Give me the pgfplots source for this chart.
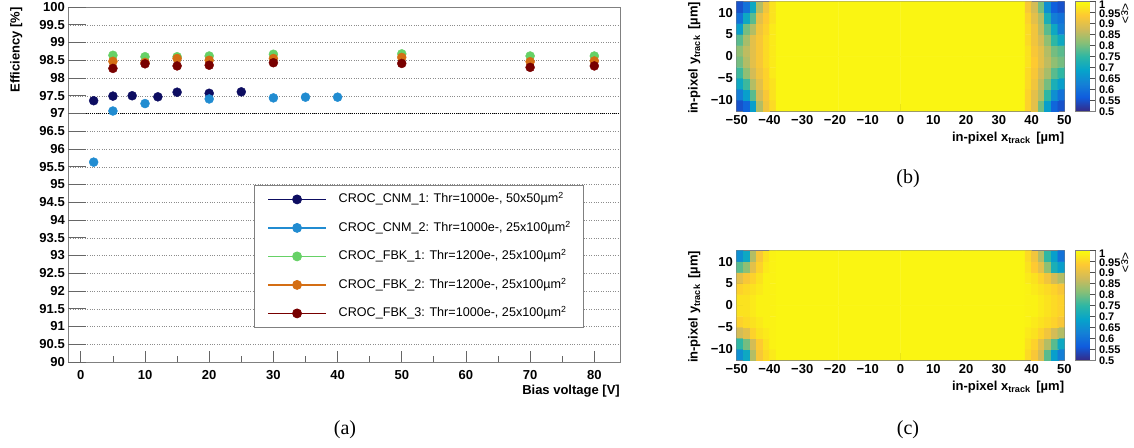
\documentclass[border=0pt]{standalone}
\usepackage{fontspec}
\setmainfont{Liberation Sans}
\newfontfamily\timesfont{Liberation Serif}
\usepackage{pgfplots}
\pgfplotsset{compat=1.18}

\definecolor{cnmone}{rgb}{0.05,0.05,0.38}
\definecolor{cnmtwo}{rgb}{0.13,0.55,0.82}
\definecolor{fbkone}{rgb}{0.40,0.82,0.40}
\definecolor{fbktwo}{rgb}{0.83,0.43,0.08}
\definecolor{fbkthree}{rgb}{0.47,0.0,0.0}
\definecolor{framegray}{gray}{0.5}

\newcommand\tl{\bfseries\fontsize{13}{13}\selectfont}
\newcommand\cl{\bfseries\fontsize{11}{11}\selectfont}

\pgfplotsset{
 colormap={bird}{rgb=(0.2082,0.1664,0.5293) rgb=(0.0592,0.3599,0.8684) rgb=(0.0780,0.5041,0.8385) rgb=(0.0232,0.6419,0.7914) rgb=(0.1802,0.7178,0.6425) rgb=(0.5301,0.7492,0.4662) rgb=(0.8186,0.7328,0.3499) rgb=(0.9956,0.7862,0.1968) rgb=(0.9764,0.9832,0.0539)},
 mapaxis/.style={
  anchor=south west, scale only axis, width=327.6pt, height=109.3pt,
  xmin=-50,xmax=50,ymin=-12.5,ymax=12.5,
  axis line style={framegray, line width=0.8pt},
  tick style={black!70, line width=0.8pt},
  tick align=inside, xtick pos=left, ytick pos=left,
  major tick length=7pt, minor tick length=3.5pt,
  xtick={-50,-40,-30,-20,-10,0,10,20,30,40,50},
  xticklabels={−50,−40,−30,−20,−10,0,10,20,30,40,50},
  ytick={-10,-5,0,5,10}, yticklabels={−10,−5,0,5,10},
  minor x tick num=4, minor y tick num=4,
  tick label style={font=\tl},
  xticklabel style={inner sep=0pt, anchor=north, yshift=-4pt},
  yticklabel style={inner sep=0pt, anchor=east, xshift=-3.7pt},
  xlabel={in-pixel x\textsubscript{track}\, [µm]},
  ylabel={in-pixel y\textsubscript{track}\, [µm]},
  label style={font=\tl},
  xlabel style={at={(1,0)}, anchor=base east, yshift=-30.5pt, inner sep=0pt},
  ylabel style={at={(-0.119,1)}, anchor=base east, inner sep=0pt},
  point meta min=0.5, point meta max=1, colormap name=bird,
  colorbar,
  colorbar style={at={(parent axis.north east)}, anchor=north west, xshift=2.4pt,
   scale only axis, width=20.6pt, height=109.3pt,
   ytick={0.5,0.55,0.6,0.65,0.7,0.75,0.8,0.85,0.9,0.95},
   yticklabels={0.5,0.55,0.6,0.65,0.7,0.75,0.8,0.85,0.9,0.95},
   extra y ticks={1}, extra y tick labels={1},
   extra y tick style={yticklabel style={yshift=-2pt}},
   ytick pos=right, yticklabel pos=right, tick align=inside, major tick length=6pt,
   axis line style={framegray,line width=0.8pt}, tick style={black!70,line width=0.8pt},
   yticklabel style={font=\cl, inner sep=0pt, anchor=west, xshift=3pt, yshift=-0.6pt}},
 },
 cell/.style={matrix plot*, point meta=explicit, mesh/cols=6},
}

\begin{document}
\begin{tikzpicture}
% ---------------- (a) ----------------
\begin{axis}[
 at={(68pt,-362pt)}, anchor=south west, scale only axis, width=552pt, height=355pt,
 xmin=-2, xmax=84, ymin=90, ymax=100,
 xtick={0,10,20,30,40,50,60,70,80}, minor x tick num=1,
 ytick={90,90.5,91,91.5,92,92.5,93,93.5,94,94.5,95,95.5,96,96.5,97,97.5,98,98.5,99,99.5,100},
 yticklabels={90,90.5,91,91.5,92,92.5,93,93.5,94,94.5,95,95.5,96,96.5,97,97.5,98,98.5,99,99.5,100},
 xticklabels={0,10,20,30,40,50,60,70,80},
 xtick pos=left, ytick pos=left, tick align=inside,
 major tick length=11pt, minor tick length=6pt,
 axis line style={framegray, line width=0.8pt},
 tick style={black!60, line width=0.8pt},
 ymajorgrids, grid style={black!45, dotted, line width=0.5pt},
 tick label style={font=\tl},
 xticklabel style={inner sep=0pt, anchor=north, yshift=-8pt},
 yticklabel style={inner sep=0pt, anchor=east, xshift=-3pt},
 xlabel={Bias voltage [V]}, ylabel={Efficiency [\%]},
 label style={font=\tl},
 xlabel style={at={(1,0)}, anchor=base east, yshift=-32.5pt, inner sep=0pt},
 ylabel style={at={(-0.0875,1)}, anchor=base east, inner sep=0pt},
 legend style={at={(0.337,0.4986)}, anchor=north west, draw=framegray, line width=0.8pt,
   fill=white, inner xsep=13pt, inner ysep=8pt, row sep=16.5pt, column sep=12pt,
   font=\fontsize{12.6}{12.6}\selectfont,
   nodes={inner sep=0pt, text height=9.5pt, text depth=2.5pt}},
 legend cell align=left,
 legend image code/.code={\draw[#1, line width=1.3pt] (0pt,0pt) -- (58pt,0pt);
   \draw[#1] plot coordinates {(29pt,0pt)};},
]
\addplot[black, densely dotted, line width=1pt, forget plot] coordinates {(-2,97) (84,97)};
\addplot[only marks, mark=*, mark size=4.5pt, color=cnmone] coordinates
 {(2,97.36) (5,97.49) (8,97.50) (12,97.47) (15,97.60) (20,97.57) (25,97.61)};
\addlegendentry{CROC\_CNM\_1: Thr=1000e-, 50x50µm\textsuperscript{2}}
\addplot[only marks, mark=*, mark size=4.5pt, color=cnmtwo] coordinates
 {(2,95.63) (5,97.07) (10,97.28) (20,97.41) (30,97.44) (35,97.46) (40,97.46)};
\addlegendentry{CROC\_CNM\_2: Thr=1000e-, 25x100µm\textsuperscript{2}}
\addplot[only marks, mark=*, mark size=4.5pt, color=fbkone] coordinates
 {(5,98.64) (10,98.60) (15,98.60) (20,98.62) (30,98.67) (50,98.68) (70,98.62) (80,98.62)};
\addlegendentry{CROC\_FBK\_1: Thr=1200e-, 25x100µm\textsuperscript{2}}
\addplot[only marks, mark=*, mark size=4.5pt, color=fbktwo] coordinates
 {(5,98.47) (10,98.44) (15,98.55) (20,98.50) (30,98.55) (50,98.58) (70,98.46) (80,98.48)};
\addlegendentry{CROC\_FBK\_2: Thr=1200e-, 25x100µm\textsuperscript{2}}
\addplot[only marks, mark=*, mark size=4.5pt, color=fbkthree] coordinates
 {(5,98.27) (10,98.40) (15,98.34) (20,98.36) (30,98.43) (50,98.41) (70,98.30) (80,98.34)};
\addlegendentry{CROC\_FBK\_3: Thr=1000e-, 25x100µm\textsuperscript{2}}
\end{axis}
% long y ticks of (a)
\begin{axis}[
 at={(68pt,-362pt)}, anchor=south west, scale only axis, width=552pt, height=355pt,
 xmin=-2, xmax=84, ymin=90, ymax=100,
 axis x line=none, axis y line*=left, y axis line style={draw=none},
 ytick={90,90.5,91,91.5,92,92.5,93,93.5,94,94.5,95,95.5,96,96.5,97,97.5,98,98.5,99,99.5,100},
 yticklabels={}, major tick length=17.7pt, tick align=inside,
 tick style={black!60, line width=0.8pt}]
\end{axis}

% ---------------- (b) ----------------
\begin{axis}[mapaxis, at={(736.7pt,-111pt)}]
\addplot[cell] table[row sep=\\, meta=c] {
x y c\\
-49 -11.25 0.55\\ -47 -11.25 0.58\\ -45 -11.25 0.68\\ -43 -11.25 0.85\\ -41 -11.25 0.92\\ -39 -11.25 0.96\\
-49 -8.75 0.62\\ -47 -8.75 0.68\\ -45 -8.75 0.78\\ -43 -8.75 0.88\\ -41 -8.75 0.93\\ -39 -8.75 0.97\\
-49 -6.25 0.70\\ -47 -6.25 0.76\\ -45 -6.25 0.85\\ -43 -6.25 0.90\\ -41 -6.25 0.95\\ -39 -6.25 0.97\\
-49 -3.75 0.76\\ -47 -3.75 0.82\\ -45 -3.75 0.88\\ -43 -3.75 0.92\\ -41 -3.75 0.95\\ -39 -3.75 0.98\\
-49 -1.25 0.80\\ -47 -1.25 0.85\\ -45 -1.25 0.90\\ -43 -1.25 0.93\\ -41 -1.25 0.96\\ -39 -1.25 0.98\\
-49 1.25 0.82\\ -47 1.25 0.86\\ -45 1.25 0.90\\ -43 1.25 0.93\\ -41 1.25 0.96\\ -39 1.25 0.98\\
-49 3.75 0.78\\ -47 3.75 0.84\\ -45 3.75 0.90\\ -43 3.75 0.93\\ -41 3.75 0.96\\ -39 3.75 0.98\\
-49 6.25 0.68\\ -47 6.25 0.80\\ -45 6.25 0.85\\ -43 6.25 0.92\\ -41 6.25 0.95\\ -39 6.25 0.98\\
-49 8.75 0.60\\ -47 8.75 0.70\\ -45 8.75 0.78\\ -43 8.75 0.90\\ -41 8.75 0.94\\ -39 8.75 0.97\\
-49 11.25 0.55\\ -47 11.25 0.60\\ -45 11.25 0.70\\ -43 11.25 0.85\\ -41 11.25 0.92\\ -39 11.25 0.97\\
};
\addplot[matrix plot*, point meta=explicit, mesh/cols=4] table[row sep=\\, meta=c] {
x y c\\
-28.5 -6.25 0.993\\ -9.5 -6.25 0.993\\ 9.5 -6.25 0.993\\ 28.5 -6.25 0.993\\
-28.5 6.25 0.993\\ -9.5 6.25 0.993\\ 9.5 6.25 0.993\\ 28.5 6.25 0.993\\
};
\addplot[cell] table[row sep=\\, meta=c] {
x y c\\
39 -11.25 0.95\\ 41 -11.25 0.90\\ 43 -11.25 0.80\\ 45 -11.25 0.68\\ 47 -11.25 0.58\\ 49 -11.25 0.55\\
39 -8.75 0.95\\ 41 -8.75 0.90\\ 43 -8.75 0.85\\ 45 -8.75 0.75\\ 47 -8.75 0.65\\ 49 -8.75 0.60\\
39 -6.25 0.96\\ 41 -6.25 0.92\\ 43 -6.25 0.86\\ 45 -6.25 0.80\\ 47 -6.25 0.72\\ 49 -6.25 0.68\\
39 -3.75 0.96\\ 41 -3.75 0.93\\ 43 -3.75 0.88\\ 45 -3.75 0.84\\ 47 -3.75 0.78\\ 49 -3.75 0.75\\
39 -1.25 0.97\\ 41 -1.25 0.94\\ 43 -1.25 0.90\\ 45 -1.25 0.86\\ 47 -1.25 0.82\\ 49 -1.25 0.80\\
39 1.25 0.97\\ 41 1.25 0.93\\ 43 1.25 0.90\\ 45 1.25 0.85\\ 47 1.25 0.80\\ 49 1.25 0.78\\
39 3.75 0.96\\ 41 3.75 0.92\\ 43 3.75 0.88\\ 45 3.75 0.82\\ 47 3.75 0.75\\ 49 3.75 0.70\\
39 6.25 0.96\\ 41 6.25 0.92\\ 43 6.25 0.86\\ 45 6.25 0.78\\ 47 6.25 0.70\\ 49 6.25 0.62\\
39 8.75 0.95\\ 41 8.75 0.90\\ 43 8.75 0.85\\ 45 8.75 0.72\\ 47 8.75 0.62\\ 49 8.75 0.60\\
39 11.25 0.93\\ 41 11.25 0.88\\ 43 11.25 0.80\\ 45 11.25 0.65\\ 47 11.25 0.57\\ 49 11.25 0.55\\
};
\end{axis}
\node[rotate=-90, anchor=west, inner sep=0pt, font=\fontsize{12.5}{12.5}\selectfont] at (1125pt,-3pt) {<ε>};

% ---------------- (c) ----------------
\begin{axis}[mapaxis, at={(736.7pt,-360pt)}]
\addplot[cell] table[row sep=\\, meta=c] {
x y c\\
-49 -11.25 0.65\\ -47 -11.25 0.70\\ -45 -11.25 0.85\\ -43 -11.25 0.93\\ -41 -11.25 0.96\\ -39 -11.25 0.98\\
-49 -8.75 0.75\\ -47 -8.75 0.80\\ -45 -8.75 0.88\\ -43 -8.75 0.94\\ -41 -8.75 0.97\\ -39 -8.75 0.99\\
-49 -6.25 0.88\\ -47 -6.25 0.90\\ -45 -6.25 0.95\\ -43 -6.25 0.97\\ -41 -6.25 0.98\\ -39 -6.25 0.99\\
-49 -3.75 0.95\\ -47 -3.75 0.96\\ -45 -3.75 0.97\\ -43 -3.75 0.98\\ -41 -3.75 0.99\\ -39 -3.75 0.99\\
-49 -1.25 0.97\\ -47 -1.25 0.97\\ -45 -1.25 0.98\\ -43 -1.25 0.99\\ -41 -1.25 0.99\\ -39 -1.25 0.99\\
-49 1.25 0.97\\ -47 1.25 0.97\\ -45 1.25 0.98\\ -43 1.25 0.99\\ -41 1.25 0.99\\ -39 1.25 0.99\\
-49 3.75 0.95\\ -47 3.75 0.96\\ -45 3.75 0.97\\ -43 3.75 0.98\\ -41 3.75 0.99\\ -39 3.75 0.99\\
-49 6.25 0.90\\ -47 6.25 0.93\\ -45 6.25 0.95\\ -43 6.25 0.97\\ -41 6.25 0.99\\ -39 6.25 0.99\\
-49 8.75 0.78\\ -47 8.75 0.82\\ -45 8.75 0.90\\ -43 8.75 0.95\\ -41 8.75 0.98\\ -39 8.75 0.99\\
-49 11.25 0.65\\ -47 11.25 0.70\\ -45 11.25 0.85\\ -43 11.25 0.93\\ -41 11.25 0.97\\ -39 11.25 0.99\\
};
\addplot[matrix plot*, point meta=explicit, mesh/cols=4] table[row sep=\\, meta=c] {
x y c\\
-28.5 -6.25 0.993\\ -9.5 -6.25 0.993\\ 9.5 -6.25 0.993\\ 28.5 -6.25 0.993\\
-28.5 6.25 0.993\\ -9.5 6.25 0.993\\ 9.5 6.25 0.993\\ 28.5 6.25 0.993\\
};
\addplot[cell] table[row sep=\\, meta=c] {
x y c\\
39 -11.25 0.96\\ 41 -11.25 0.93\\ 43 -11.25 0.88\\ 45 -11.25 0.78\\ 47 -11.25 0.68\\ 49 -11.25 0.62\\
39 -8.75 0.97\\ 41 -8.75 0.95\\ 43 -8.75 0.90\\ 45 -8.75 0.85\\ 47 -8.75 0.78\\ 49 -8.75 0.70\\
39 -6.25 0.98\\ 41 -6.25 0.97\\ 43 -6.25 0.95\\ 45 -6.25 0.92\\ 47 -6.25 0.88\\ 49 -6.25 0.85\\
39 -3.75 0.99\\ 41 -3.75 0.98\\ 43 -3.75 0.97\\ 45 -3.75 0.96\\ 47 -3.75 0.95\\ 49 -3.75 0.93\\
39 -1.25 0.99\\ 41 -1.25 0.99\\ 43 -1.25 0.98\\ 45 -1.25 0.97\\ 47 -1.25 0.96\\ 49 -1.25 0.95\\
39 1.25 0.99\\ 41 1.25 0.99\\ 43 1.25 0.98\\ 45 1.25 0.97\\ 47 1.25 0.96\\ 49 1.25 0.95\\
39 3.75 0.99\\ 41 3.75 0.98\\ 43 3.75 0.97\\ 45 3.75 0.96\\ 47 3.75 0.95\\ 49 3.75 0.93\\
39 6.25 0.98\\ 41 6.25 0.97\\ 43 6.25 0.95\\ 45 6.25 0.92\\ 47 6.25 0.88\\ 49 6.25 0.85\\
39 8.75 0.97\\ 41 8.75 0.94\\ 43 8.75 0.90\\ 45 8.75 0.82\\ 47 8.75 0.72\\ 49 8.75 0.68\\
39 11.25 0.96\\ 41 11.25 0.92\\ 43 11.25 0.85\\ 45 11.25 0.75\\ 47 11.25 0.68\\ 49 11.25 0.60\\
};
\end{axis}
\node[rotate=-90, anchor=west, inner sep=0pt, font=\fontsize{12.5}{12.5}\selectfont] at (1125pt,-252pt) {<ε>};

% captions
\node[font=\timesfont\fontsize{20}{20}\selectfont] at (345pt,-430pt) {(a)};
\node[font=\timesfont\fontsize{20}{20}\selectfont] at (908pt,-179pt) {(b)};
\node[font=\timesfont\fontsize{20}{20}\selectfont] at (908pt,-430pt) {(c)};

\pgfresetboundingbox
\path[use as bounding box] (0pt,0pt) rectangle (1134pt,-447pt);
\end{tikzpicture}
\end{document}
